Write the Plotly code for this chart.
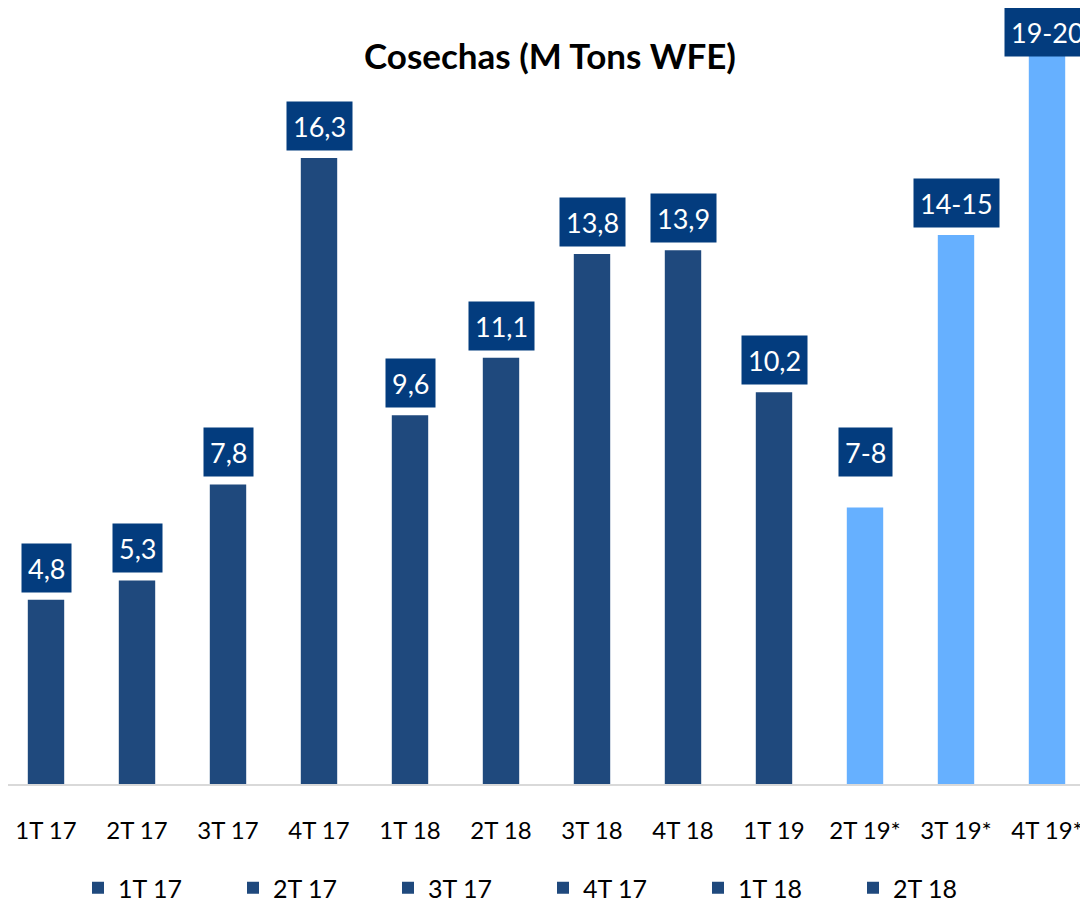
import plotly.graph_objects as go

categories = ["1T 17", "2T 17", "3T 17", "4T 17", "1T 18", "2T 18",
              "3T 18", "4T 18", "1T 19", "2T 19*", "3T 19*", "4T 19*"]
values = [4.8, 5.3, 7.8, 16.3, 9.6, 11.1, 13.8, 13.9, 10.2, 7.2, 14.3, 19.5]
labels = ["4,8", "5,3", "7,8", "16,3", "9,6", "11,1", "13,8", "13,9", "10,2",
          "7-8", "14-15", "19-20"]
label_at = [4.8, 5.3, 7.8, 16.3, 9.6, 11.1, 13.8, 13.9, 10.2, 7.8, 14.3, 18.75]
is_forecast = [False] * 9 + [True] * 3
legend_shown = 6

DARK = "#1F497D"
LIGHT = "#66B0FF"
LABEL_BG = "#033C7E"
FONT = "Lato, 'Open Sans', sans-serif"

# page body has an 8px margin; size the figure to fit the 1088x904 window
W, H = 1080, 896

fig = go.Figure()
for i, (c, v) in enumerate(zip(categories, values)):
    fig.add_trace(go.Bar(
        x=[c], y=[v], name=c, width=0.4,
        marker=dict(color=LIGHT if is_forecast[i] else DARK, line=dict(width=0)),
        showlegend=i < legend_shown,
        hoverinfo="skip",
    ))

for c, t, y in zip(categories, labels, label_at):
    fig.add_annotation(
        x=c, y=y, xref="x", yref="y", text=t, showarrow=False,
        yanchor="bottom", yshift=7,
        font=dict(family=FONT, size=27, color="white"),
        bgcolor=LABEL_BG, borderpad=6, height=36,
    )

fig.update_layout(
    width=W, height=H,
    margin=dict(l=0, r=0, t=8, b=120, autoexpand=False),
    paper_bgcolor="white", plot_bgcolor="white",
    barmode="overlay",
    title=dict(text="<b>Cosechas (M Tons WFE)</b>", x=542 / W, xanchor="center",
               y=1 - 49 / H, yanchor="middle",
               font=dict(family=FONT, size=35, color="black")),
    xaxis=dict(
        type="category", categoryorder="array", categoryarray=categories,
        range=[-0.4176, 11.4505], automargin=False,
        showline=True, linecolor="#D9D9D9", linewidth=2,
        showgrid=False, zeroline=False,
        ticks="outside", ticklen=0, ticklabelstandoff=24,
        tickfont=dict(family=FONT, size=24, color="black"),
    ),
    yaxis=dict(range=[0, 20], visible=False, showgrid=False, zeroline=False,
               automargin=False),
    legend=dict(
        orientation="h", x=70 / W, xanchor="left",
        y=-(880 - 776) / 768, yanchor="middle",
        font=dict(family=FONT, size=25, color="black"),
        entrywidth=110, entrywidthmode="pixels",
        traceorder="normal",
    ),
)

fig.write_html("out.html")
